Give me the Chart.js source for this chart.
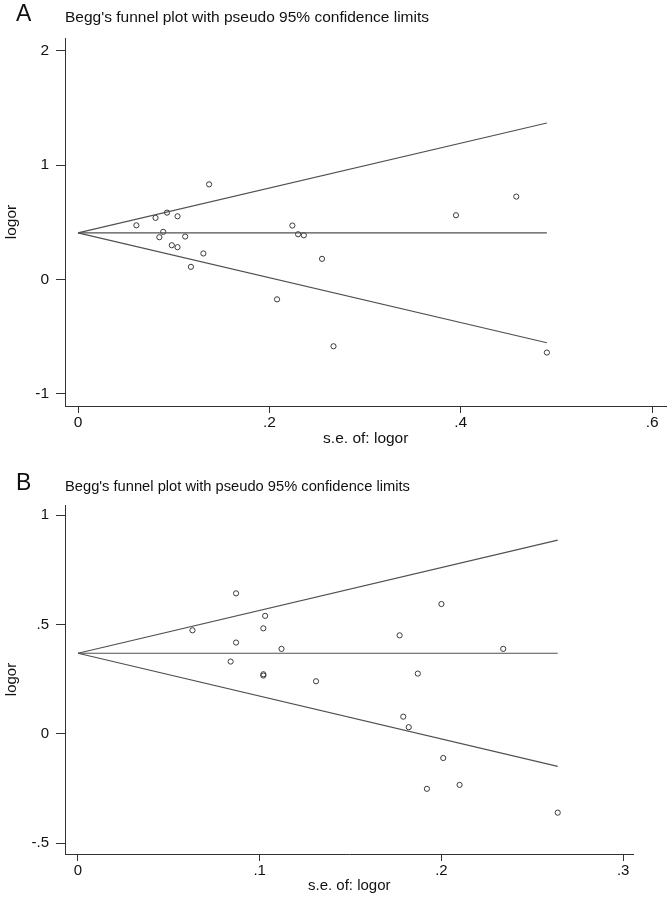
<!DOCTYPE html>
<html>
<head>
<meta charset="utf-8">
<script src="https://cdn.jsdelivr.net/npm/chart.js@4/dist/chart.umd.min.js"></script>
<style>
  body { margin: 0; background: #fff; }
  #page { position: relative; width: 672px; height: 897px; background: #fff; font-family: "Liberation Sans", Arial, sans-serif; color: #111; }
  canvas { position: absolute; left: 0; }
  .letter { position: absolute; left: 16px; font-size: 23px; }
  .title { position: absolute; left: 65px; white-space: nowrap; }
</style>
</head>
<body>
<div id="page">
  <canvas id="chartA" width="672" height="460" style="top:0"></canvas>
  <canvas id="chartB" width="672" height="437" style="top:460px"></canvas>
  <div class="letter" style="top:0px">A</div>
  <div class="title" style="top:8px;font-size:15.5px">Begg's funnel plot with pseudo 95% confidence limits</div>
  <div class="letter" style="top:469px">B</div>
  <div class="title" style="top:478px;font-size:14.7px">Begg's funnel plot with pseudo 95% confidence limits</div>
</div>
<script>
// Panel A: study points (s.e. of logor, logor)
const seA = [0.061, 0.081, 0.093, 0.104, 0.089, 0.085, 0.098, 0.104, 0.112, 0.118, 0.131, 0.137,
             0.208, 0.224, 0.230, 0.236, 0.255, 0.267, 0.395, 0.458, 0.490];
const logorA = [0.473, 0.538, 0.584, 0.552, 0.416, 0.369, 0.299, 0.282, 0.375, 0.110, 0.227, 0.831,
                -0.174, 0.471, 0.395, 0.386, 0.180, -0.584, 0.561, 0.724, -0.639];
// Panel A: funnel lines (pseudo 95% limits)
const funnelSeA = [0, 0.49];
const upperA = [0.407, 1.367];
const centerA = [0.407, 0.407];
const lowerA = [0.407, -0.553];
const xTicksA = [0, 0.2, 0.4, 0.6];
const yTicksA = [-1, 0, 1, 2];

// Panel B
const seB = [0.063, 0.087, 0.087, 0.084, 0.103, 0.102, 0.102, 0.102, 0.112, 0.131, 0.200, 0.177,
             0.234, 0.187, 0.179, 0.182, 0.201, 0.192, 0.210, 0.264];
const logorB = [0.474, 0.643, 0.418, 0.331, 0.540, 0.483, 0.273, 0.267, 0.389, 0.241, 0.594, 0.451,
                0.389, 0.276, 0.079, 0.031, -0.110, -0.251, -0.233, -0.360];
const funnelSeB = [0, 0.264];
const upperB = [0.369, 0.886];
const centerB = [0.369, 0.369];
const lowerB = [0.369, -0.148];
const xTicksB = [0, 0.1, 0.2, 0.3];
const yTicksB = [-0.5, 0, 0.5, 1];

const INK = '#333';
const FONT = '"Liberation Sans", Arial, sans-serif';

function stataLabel(v) {
  return v === 0 ? '0' : String(v).replace('0.', '.');
}

function toPoints(xs, ys) {
  return xs.map((x, i) => ({x: x, y: ys[i]}));
}

function lineSet(xs, ys) {
  return {
    type: 'line',
    data: toPoints(xs, ys),
    borderColor: '#505050',
    borderWidth: 1.2,
    pointRadius: 0,
    fill: false,
    tension: 0
  };
}

function drawFunnel(id, cfg) {
  const ctx = document.getElementById(id).getContext('2d');
  return new Chart(ctx, {
    type: 'scatter',
    data: {
      datasets: [
        lineSet(cfg.funnelSe, cfg.upper),
        lineSet(cfg.funnelSe, cfg.center),
        lineSet(cfg.funnelSe, cfg.lower),
        {
          data: toPoints(cfg.se, cfg.logor),
          pointRadius: 2.6,
          pointBorderWidth: 1,
          pointBorderColor: '#3a3a3a',
          pointBackgroundColor: 'rgba(255,255,255,0)'
        }
      ]
    },
    options: {
      responsive: false,
      animation: false,
      devicePixelRatio: 1,
      layout: {padding: cfg.padding},
      plugins: {legend: {display: false}, tooltip: {enabled: false}},
      scales: {
        x: {
          type: 'linear',
          min: cfg.xMin,
          max: cfg.xMax,
          afterBuildTicks: s => { s.ticks = cfg.xTicks.map(v => ({value: v})); },
          afterFit: s => { s.height = cfg.xHeight; },
          ticks: {color: '#111', font: {family: FONT, size: cfg.fontSize}, padding: 0.5, maxRotation: 0,
                  callback: v => stataLabel(v)},
          grid: {drawOnChartArea: false, drawTicks: true, tickLength: 7, color: INK, lineWidth: 1},
          border: {display: true, color: INK, width: 1},
          title: {display: true, text: 's.e. of: logor', color: '#111',
                  font: {family: FONT, size: cfg.fontSize}, padding: {top: 0, bottom: cfg.xTitlePad}}
        },
        y: {
          type: 'linear',
          min: cfg.yMin,
          max: cfg.yMax,
          afterBuildTicks: s => { s.ticks = cfg.yTicks.map(v => ({value: v})); },
          afterFit: s => { s.width = 65; },
          ticks: {color: '#111', font: {family: FONT, size: cfg.fontSize}, padding: 7,
                  callback: v => stataLabel(v)},
          grid: {drawOnChartArea: false, drawTicks: true, tickLength: 9, color: INK, lineWidth: 1},
          border: {display: true, color: INK, width: 1},
          title: {display: true, text: 'logor', color: '#111',
                  font: {family: FONT, size: cfg.fontSize}, padding: {top: 2.4, bottom: 0}}
        }
      }
    }
  });
}

drawFunnel('chartA', {
  se: seA, logor: logorA, funnelSe: funnelSeA, upper: upperA, center: centerA, lower: lowerA,
  xTicks: xTicksA, yTicks: yTicksA,
  xMin: -0.0136, xMax: 0.615, yMin: -1.106, yMax: 2.11,
  padding: {left: 0, right: 5.5, top: 38, bottom: 4},
  xHeight: 50, xTitlePad: 8.4, fontSize: 15.5
});

drawFunnel('chartB', {
  se: seB, logor: logorB, funnelSe: funnelSeB, upper: upperB, center: centerB, lower: lowerB,
  xTicks: xTicksB, yTicks: yTicksB,
  xMin: -0.00715, xMax: 0.3057, yMin: -0.549, yMax: 1.047,
  padding: {left: 0, right: 38.5, top: 45, bottom: 0},
  xHeight: 43, xTitlePad: 2.4, fontSize: 15
});
</script>
</body>
</html>
